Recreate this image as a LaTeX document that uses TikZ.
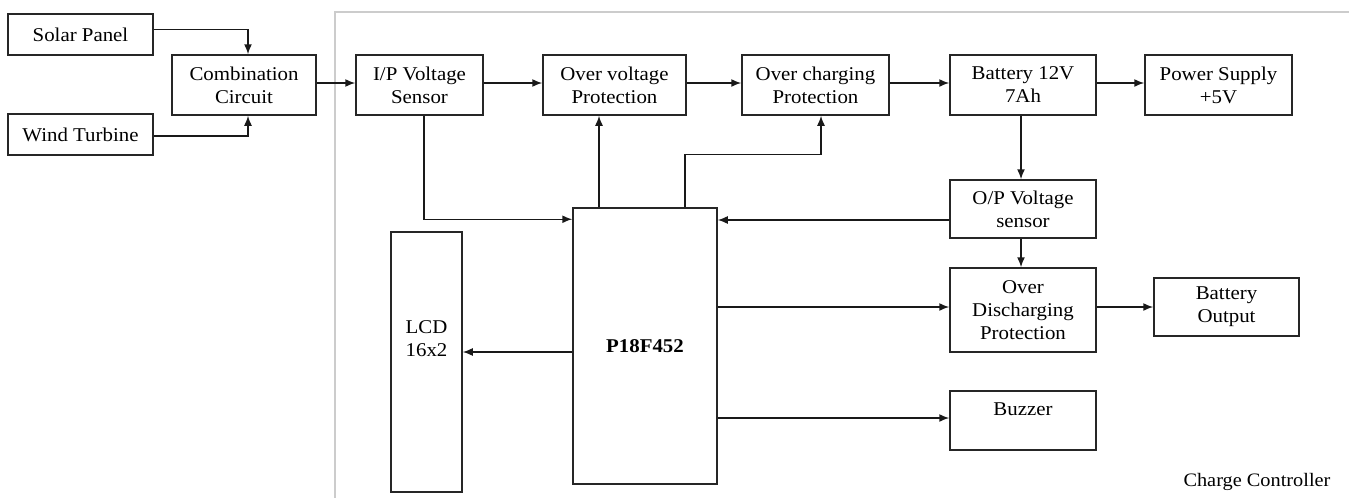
\documentclass[tikz,border=0pt]{standalone}
\usepackage{fontspec}
\setmainfont[FakeStretch=1.07]{Liberation Serif}
\usetikzlibrary{arrows.meta}
\begin{document}
\begin{tikzpicture}[x=1pt,y=-1pt,
  every node/.style={font=\fontsize{19.5}{23}\selectfont},
  blk/.style={draw=black!85, line width=1.5pt, inner sep=0pt, align=center, text=black},
  arr/.style={draw=black!90, line width=1.5pt, -{Latex[length=10pt,width=8pt]}},
  ln/.style={draw=black!90, line width=1.5pt}]
\useasboundingbox (0,0) rectangle (1349,498);
\fill[white] (0,0) rectangle (1349,498);
% charge controller frame
\draw[black!20, line width=1.3pt] (1349,12) -- (335,12) -- (335,498);
\node[font=\fontsize{19}{23}\selectfont] (cc) at (1257,482) {Charge Controller};
% blocks
\node[blk, minimum width=145pt, minimum height=41pt] (solar) at (80.5,34.5) {Solar Panel};
\node[blk, minimum width=145pt, minimum height=41pt] (wind) at (80.5,134.5) {Wind Turbine};
\node[blk, minimum width=144pt, minimum height=60pt] (comb) at (244,85) {Combination\\Circuit};
\node[blk, minimum width=127pt, minimum height=60pt] (ip) at (419.5,85) {I/P Voltage\\Sensor};
\node[blk, minimum width=143pt, minimum height=60pt] (ov) at (614.5,85) {Over voltage\\Protection};
\node[blk, minimum width=147pt, minimum height=60pt] (oc) at (815.5,85) {Over charging\\Protection};
\node[blk, minimum width=146pt, minimum height=60pt] (bat) at (1023,85) {Battery 12V\\7Ah};
\node[blk, minimum width=147pt, minimum height=60pt] (ps) at (1218.5,85) {Power Supply\\+5V};
\node[blk, minimum width=146pt, minimum height=58pt] (op) at (1023,209) {O/P Voltage\\sensor};
\node[blk, minimum width=146pt, minimum height=84pt] (od) at (1023,310) {Over\\Discharging\\Protection};
\node[blk, minimum width=145pt, minimum height=58pt] (bo) at (1226.5,307) {Battery\\Output};
\node[blk, minimum width=146pt, minimum height=59pt] (buz) at (1023,420.5) {Buzzer\\~};
\node[blk, minimum width=144pt, minimum height=276pt] (p18) at (645,346) {\bfseries P18F452};
\node[blk, minimum width=71pt, minimum height=260pt] (lcd) at (426.5,362) {LCD\\16x2\\~\\~};
% connectors
\draw[arr] ([yshift=5pt]solar.east) -| ([xshift=4pt]comb.north);
\draw[arr] ([yshift=-1.5pt]wind.east) -| ([xshift=4pt]comb.south);
\draw[arr] ([yshift=2pt]comb.east) -- ([yshift=2pt]ip.west);
\draw[arr] ([yshift=2pt]ip.east) -- ([yshift=2pt]ov.west);
\draw[arr] ([yshift=2pt]ov.east) -- ([yshift=2pt]oc.west);
\draw[arr] ([yshift=2pt]oc.east) -- ([yshift=2pt]bat.west);
\draw[arr] ([yshift=2pt]bat.east) -- ([yshift=2pt]ps.west);
\draw[arr] ([xshift=4.5pt]ip.south) |- ([yshift=-12pt]p18.north west);
\draw[arr] ([xshift=-46pt]p18.north) -- ([xshift=-46pt]p18.north |- ov.south);
\draw[arr] ([xshift=40pt]p18.north) -- ++(0,-53) -| ([xshift=5.5pt]oc.south);
\draw[arr] ([xshift=-2pt]bat.south) -- ([xshift=-2pt]op.north);
\draw[arr] ([yshift=-11pt]op.west) -- ([yshift=-11pt]op.west -| p18.east);
\draw[arr] ([xshift=-2pt]op.south) -- ([xshift=-2pt]od.north);
\draw[arr] ([yshift=3pt]od.west -| p18.east) -- ([yshift=3pt]od.west);
\draw[arr] (od.east |- bo.west) -- (bo.west);
\draw[arr] ([yshift=2.5pt]buz.west -| p18.east) -- ([yshift=2.5pt]buz.west);
\draw[arr] ([yshift=-6pt]p18.west) -- ([yshift=-6pt]p18.west -| lcd.east);
\end{tikzpicture}
\end{document}
